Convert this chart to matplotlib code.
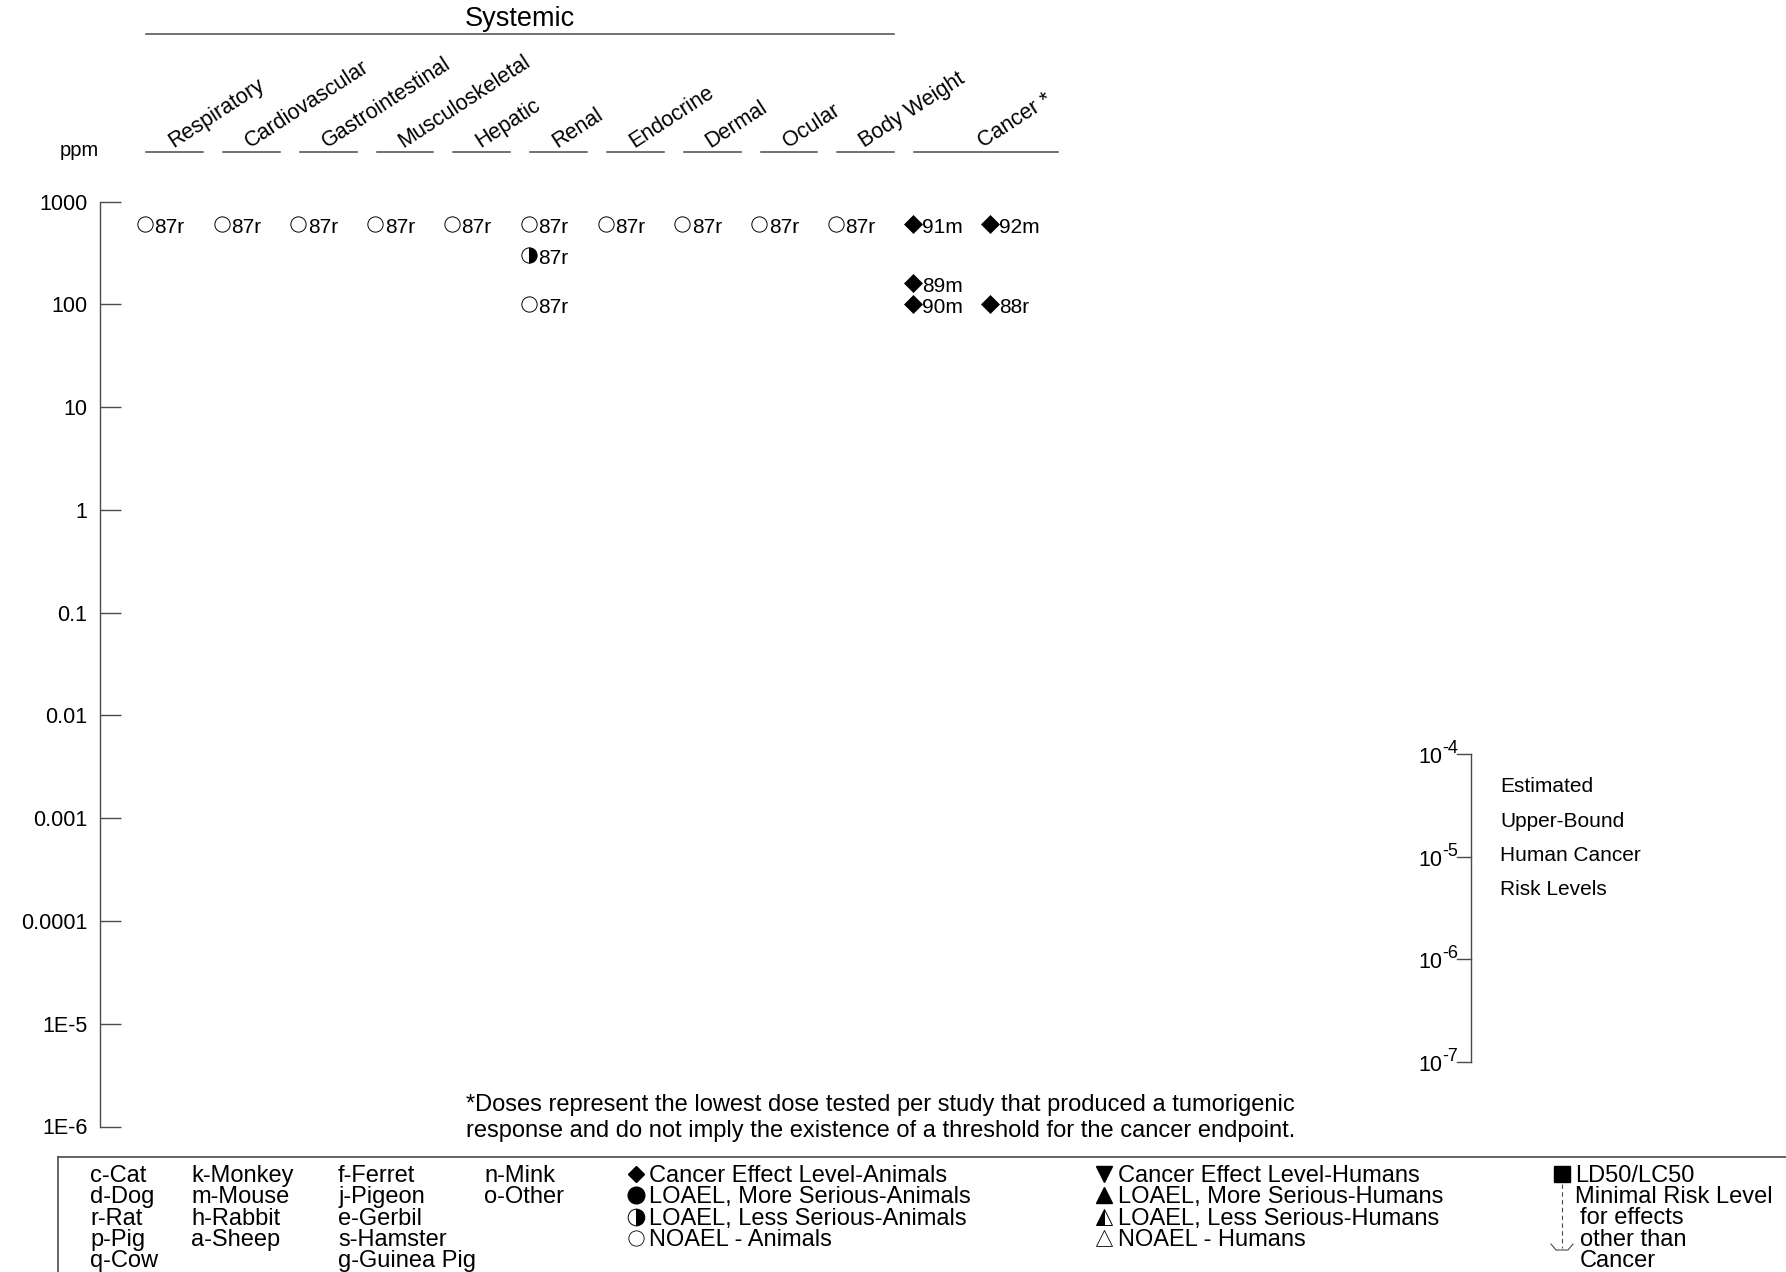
import matplotlib
matplotlib.use("Agg")
import matplotlib.pyplot as plt
from matplotlib import transforms
from matplotlib.lines import Line2D
from matplotlib.ticker import NullLocator

W, H = 1786, 1272
DPI = 100

SANS = ["Liberation Sans", "DejaVu Sans"]
NARROW = ["Liberation Sans Narrow", "Liberation Sans", "DejaVu Sans"]

plt.rcParams["font.family"] = SANS

# ---- data -------------------------------------------------------------
categories = ["Respiratory", "Cardiovascular", "Gastrointestinal", "Musculoskeletal",
              "Hepatic", "Renal", "Endocrine", "Dermal", "Ocular", "Body Weight",
              "Cancer *"]
systemic_cols = 10

tick_values = [1000, 100, 10, 1, 0.1, 0.01, 0.001, 0.0001, 1e-5, 1e-6]
tick_labels = ["1000", "100", "10", "1", "0.1", "0.01", "0.001", "0.0001", "1E-5", "1E-6"]

point_col = [0, 1, 2, 3, 4, 5, 6, 7, 8, 9, 5, 5, 10, 10, 10, 11, 11]
point_ppm = [600, 600, 600, 600, 600, 600, 600, 600, 600, 600, 300, 100,
             600, 160, 100, 600, 100]
point_kind = ["noael"] * 10 + ["loael_less", "noael", "cel", "cel", "cel", "cel", "cel"]
point_label = ["87r"] * 12 + ["91m", "89m", "90m", "92m", "88r"]

risk_exponents = ["-4", "-5", "-6", "-7"]
risk_text = ["Estimated", "Upper-Bound", "Human Cancer", "Risk Levels"]

species_cols = [
    ["c-Cat", "d-Dog", "r-Rat", "p-Pig", "q-Cow"],
    ["k-Monkey", "m-Mouse", "h-Rabbit", "a-Sheep"],
    ["f-Ferret", "j-Pigeon", "e-Gerbil", "s-Hamster", "g-Guinea Pig"],
    ["n-Mink", "o-Other"],
]
animal_legend = ["Cancer Effect Level-Animals", "LOAEL, More Serious-Animals",
                 "LOAEL, Less Serious-Animals", "NOAEL - Animals"]
human_legend = ["Cancer Effect Level-Humans", "LOAEL, More Serious-Humans",
                "LOAEL, Less Serious-Humans", "NOAEL - Humans"]
mrl_legend = ["Minimal Risk Level", "for effects", "other than", "Cancer"]

footnote = ("*Doses represent the lowest dose tested per study that produced a tumorigenic\n"
            "response and do not imply the existence of a threshold for the cancer endpoint.")

# ---- styles -----------------------------------------------------------
LINE = "#4a4a4a"
MARKERS = {
    "noael": dict(marker="o", ms=11, mfc="white", mec="black", mew=0.7),
    "loael_less": dict(marker="o", ms=11, fillstyle="right", mfc="black",
                       mfcalt="white", mec="black", mew=0.7),
    "cel": dict(marker="D", ms=9, mfc="black", mec="black", mew=0.5),
}
LEG_FS = 17


def px(x):
    return x / W


def py(y):
    return 1 - y / H


fig = plt.figure(figsize=(W / DPI, H / DPI), dpi=DPI)

# main axis: ppm on log scale, one x unit per column
x0_px, col_px = 144.7, 76.8
ax_left, ax_right, ax_top, ax_bot = 100, 1100, 201.6, 1126.5
ax = fig.add_axes([px(ax_left), py(ax_bot), px(ax_right - ax_left), (ax_bot - ax_top) / H])
ax.set_yscale("log")
for c, v, k, lab in zip(point_col, point_ppm, point_kind, point_label):
    ax.plot([c], [v], linestyle="none", **MARKERS[k])
    ax.annotate(lab, (c, v), xytext=(7, -2), textcoords="offset points",
                ha="left", va="center", fontsize=15)
ax.set_ylim(1e-6, 1e3)
ax.set_xlim((ax_left - x0_px) / col_px, (ax_right - x0_px) / col_px)
ax.set_yticks(tick_values)
ax.set_yticklabels(tick_labels)
ax.yaxis.set_minor_locator(NullLocator())
ax.set_xticks([])
for s in ["top", "right", "bottom"]:
    ax.spines[s].set_visible(False)
ax.spines["left"].set_color(LINE)
ax.spines["left"].set_linewidth(1.0)
ax.tick_params(axis="y", direction="in", length=15, width=1.0, color=LINE,
               pad=9, labelsize=15.5)
ax.patch.set_visible(False)

# header above the axis
hdr = transforms.blended_transform_factory(ax.transData, fig.transFigure)
for i, name in enumerate(categories):
    if i < systemic_cols:
        x_a, x_b, x_lab = i + 0.02, i + 0.76, i + 0.37
    else:
        x_a, x_b, x_lab = i + 0.02, i + 1.89, i + 0.92
    fig.add_artist(Line2D([x_a, x_b], [py(151.7)] * 2, transform=hdr,
                          color=LINE, lw=1.1))
    fig.text(x_lab, py(148), name, transform=hdr, rotation=33,
             rotation_mode="anchor", ha="left", va="baseline", fontsize=15.5)
fig.add_artist(Line2D([0.02, systemic_cols - 1 + 0.76], [py(34)] * 2,
                      transform=hdr, color=LINE, lw=1.1))
fig.text((0.02 + systemic_cols - 1 + 0.76) / 2, py(19), "Systemic", transform=hdr,
         ha="center", va="center", fontsize=19.5)
fig.text(px(79), py(156), "ppm", ha="center", va="baseline", fontsize=14.5)

# cancer risk scale
risk_top, risk_step = 754, 102.7
ys = [risk_top + risk_step * i for i in range(len(risk_exponents))]
fig.add_artist(Line2D([px(1471)] * 2, [py(ys[0]), py(ys[-1])], color=LINE, lw=1.0))
for y, e in zip(ys, risk_exponents):
    fig.add_artist(Line2D([px(1457), px(1471)], [py(y)] * 2, color=LINE, lw=1.0))
    fig.text(px(1442), py(y + 9), "10", ha="right", va="baseline", fontsize=15.5)
    fig.text(px(1442), py(y - 1), e, ha="left", va="baseline", fontsize=13)
for i, t in enumerate(risk_text):
    fig.text(px(1500), py(787 + 34.3 * i), t, ha="left", va="center", fontsize=15)

# footnote
fig.text(px(466), py(1118), footnote, ha="left", va="center", fontsize=17,
         linespacing=1.22)

# legend box
fig.add_artist(Line2D([px(58), px(W)], [py(1157)] * 2, color=LINE, lw=1.2))
fig.add_artist(Line2D([px(58)] * 2, [py(1157), py(H)], color=LINE, lw=1.2))

row_base = [1182 + 21.3 * i for i in range(5)]
for x, col in zip([90, 191, 338, 484], species_cols):
    for j, t in enumerate(col):
        fig.text(px(x), py(row_base[j]), t, ha="left", va="baseline",
                 fontsize=LEG_FS, family=NARROW)

animal_marks = [
    dict(marker="D", ms=8.5, mfc="black", mec="black"),
    dict(marker="o", ms=12, mfc="black", mec="black"),
    dict(marker="o", ms=12, fillstyle="right", mfc="black", mfcalt="white", mec="black", mew=0.7),
    dict(marker="o", ms=11, mfc="white", mec="black", mew=0.6),
]
human_marks = [
    dict(marker="v", ms=11, mfc="black", mec="black"),
    dict(marker="^", ms=11, mfc="black", mec="black"),
    dict(marker="^", ms=11, fillstyle="left", mfc="black", mfcalt="white", mec="black", mew=0.7),
    dict(marker="^", ms=11, mfc="white", mec="black", mew=0.6),
]
for (xm, xt), labels, marks in [((636, 649), animal_legend, animal_marks),
                                ((1104, 1118), human_legend, human_marks)]:
    for j, (t, m) in enumerate(zip(labels, marks)):
        fig.add_artist(Line2D([px(xm)], [py(row_base[j] - 8)], linestyle="none", **m))
        fig.text(px(xt), py(row_base[j]), t, ha="left", va="baseline",
                 fontsize=LEG_FS, family=NARROW)

fig.add_artist(Line2D([px(1562)], [py(1174)], marker="s", ms=12, mfc="black",
                      mec="black", linestyle="none"))
fig.text(px(1575), py(1182), "LD50/LC50", ha="left", va="baseline", fontsize=LEG_FS,
         family=NARROW)
fig.add_artist(Line2D([px(1562)] * 2, [py(1184), py(1248)], color=LINE, lw=0.8,
                      linestyle=(0, (4, 3))))
fig.add_artist(Line2D([px(1551), px(1556), px(1568), px(1573)],
                      [py(1244), py(1250), py(1250), py(1244)], color=LINE, lw=0.8))
for j, t in enumerate(mrl_legend):
    fig.text(px(1575 if j == 0 else 1580), py(1203 + 21.3 * j), t, ha="left",
             va="baseline", fontsize=LEG_FS, family=NARROW)

fig.savefig("out.png", dpi=DPI)
